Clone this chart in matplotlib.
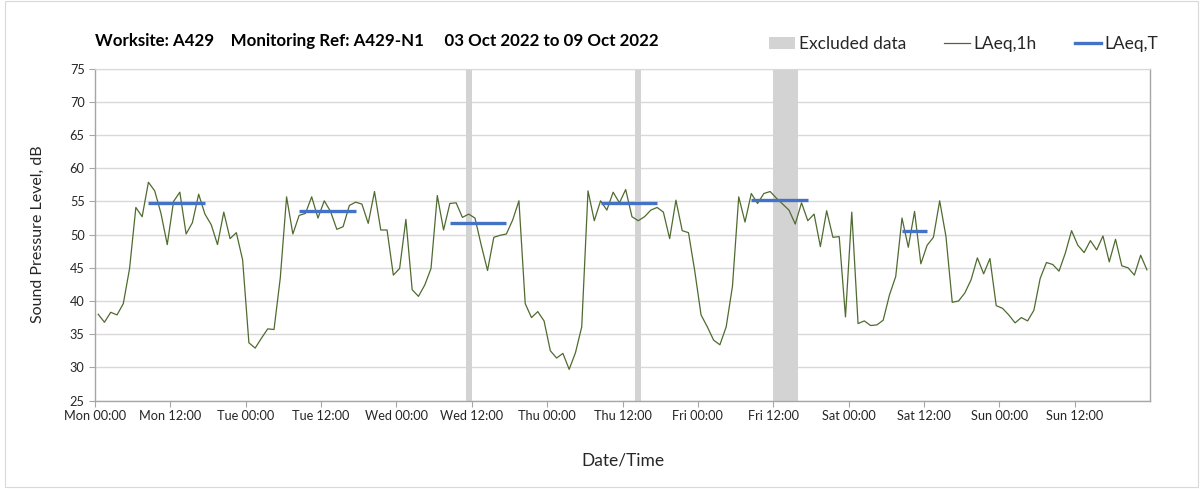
import numpy as np
import matplotlib
matplotlib.use("Agg")
import matplotlib.pyplot as plt
from matplotlib.patches import Patch, Rectangle
from matplotlib.lines import Line2D

plt.rcParams["font.family"] = ["Lato", "DejaVu Sans"]

# hourly LAeq,1h values, Mon 03 Oct 00:00 -> Sun 09 Oct 23:00
mon = [38.0, 36.8, 38.3, 37.9, 39.6, 44.9, 54.1, 52.7, 57.9, 56.6, 53.2, 48.5,
       55.0, 56.4, 50.1, 51.8, 56.1, 53.1, 51.5, 48.5, 53.4, 49.4, 50.3, 46.2]
tue = [33.7, 32.9, 34.4, 35.8, 35.7, 43.5, 55.7, 50.1, 52.9, 53.2, 55.7, 52.5,
       55.1, 53.5, 50.8, 51.2, 54.4, 54.9, 54.6, 51.7, 56.5, 50.7, 50.7, 43.9]
wed = [44.9, 52.3, 41.7, 40.7, 42.4, 44.9, 55.9, 50.7, 54.7, 54.8, 52.6, 53.1,
       52.5, 48.4, 44.6, 49.6, 49.9, 50.1, 52.2, 55.1, 39.6, 37.5, 38.4, 37.0]
thu = [32.5, 31.4, 32.1, 29.7, 32.2, 36.1, 56.6, 52.1, 55.1, 53.7, 56.4, 54.8,
       56.8, 52.7, 52.1, 52.7, 53.7, 54.1, 53.4, 49.4, 55.2, 50.6, 50.3, 44.5]
fri = [37.9, 36.1, 34.1, 33.4, 36.1, 42.2, 55.7, 51.9, 56.2, 54.7, 56.2, 56.5,
       55.5, 54.6, 53.7, 51.6, 54.8, 52.1, 53.1, 48.2, 53.6, 49.6, 49.7, 37.6]
sat = [53.4, 36.6, 37.0, 36.3, 36.4, 37.1, 40.9, 43.7, 52.5, 48.1, 53.5, 45.6,
       48.4, 49.6, 55.1, 49.7, 39.8, 40.0, 41.2, 43.2, 46.5, 44.1, 46.4, 39.3]
sun = [38.9, 37.9, 36.7, 37.5, 37.0, 38.6, 43.4, 45.8, 45.5, 44.5, 47.2, 50.6,
       48.4, 47.3, 49.1, 47.7, 49.8, 45.9, 49.3, 45.3, 45.0, 43.9, 46.9, 44.7]
laeq_1h = mon + tue + wed + thu + fri + sat + sun

# LAeq,T per day (day index, first hour, last hour, value)
laeqt_day = [0, 1, 2, 3, 4, 5]
laeqt_first_hour = [8, 8, 8, 8, 8, 8]
laeqt_last_hour = [17, 17, 17, 17, 17, 12]
laeqt_value = [54.7, 53.6, 51.7, 54.7, 55.2, 50.6]

# excluded periods, hours from Mon 00:00
excl_start = [59, 86, 108]
excl_end = [60, 87, 112]

day_names = ["Mon", "Tue", "Wed", "Thu", "Fri", "Sat", "Sun"]
tick_labels = [d + " " + t for d in day_names for t in ["00:00", "12:00"]]

green = "#4f6b2f"
blue = "#4472c4"
grey_band = "#d3d3d3"
grid_c = "#d9d9d9"
axis_c = "#a6a6a6"
text_c = "#262626"

fig = plt.figure(figsize=(12.03, 4.91), dpi=100)
fig.patches.append(Rectangle((0.004, 0.008), 0.992, 0.99, transform=fig.transFigure,
                             fill=False, edgecolor="#d9d9d9", linewidth=0.8))
ax = fig.add_axes([0.079, 0.1843, 0.877, 0.6756])

hours = np.arange(len(laeq_1h)) + 0.5

for s, e in zip(excl_start, excl_end):
    ax.axvspan(s, e, color=grey_band, linewidth=0, zorder=1)

ax.plot(hours, laeq_1h, color=green, linewidth=0.9, zorder=3)

for d, h0, h1, v in zip(laeqt_day, laeqt_first_hour, laeqt_last_hour, laeqt_value):
    ax.plot([24 * d + h0 + 0.5, 24 * d + h1 + 0.5], [v, v], color=blue,
            linewidth=2.4, solid_capstyle="butt", zorder=4)

ax.set_xlim(0, 168)
ax.set_ylim(25, 75)
ax.set_yticks(np.arange(25, 76, 5))
ax.set_xticks(np.arange(0, 168, 12))
ax.set_xticklabels(tick_labels)
ax.set_xticks(np.arange(24, 168, 24), minor=True)

ax.grid(axis="y", which="major", color=grid_c, linewidth=1, zorder=0)
ax.grid(axis="x", which="minor", color="#e6e6e6", linewidth=1, zorder=0)
ax.set_axisbelow(True)

for side in ["left", "bottom", "right"]:
    ax.spines[side].set_color(axis_c)
    ax.spines[side].set_linewidth(1)
ax.spines["top"].set_color(grid_c)

ax.tick_params(axis="both", which="major", length=4, color=axis_c, labelsize=9.2,
               labelcolor=text_c)
ax.tick_params(axis="x", which="minor", length=0)
ax.tick_params(axis="x", pad=3)

ax.set_ylabel("Sound Pressure Level, dB", fontsize=11.5, color=text_c, labelpad=18)
ax.set_xlabel("Date/Time", fontsize=12.5, color=text_c, labelpad=22)

fig.text(95 / 1203, 1 - 41 / 491,
         "Worksite: A429    Monitoring Ref: A429-N1     03 Oct 2022 to 09 Oct 2022",
         fontsize=12.2, fontweight="bold", color="black", va="center", ha="left")

handles = [Patch(facecolor=grey_band, edgecolor="none"),
           Line2D([], [], color=green, linewidth=0.9),
           Line2D([], [], color=blue, linewidth=2.4)]
fig.legend(handles, ["Excluded data", "LAeq,1h", "LAeq,T"], loc="center right",
           bbox_to_anchor=(1174 / 1203, 1 - 44 / 491), ncol=3, frameon=False,
           fontsize=12.5, handlelength=1.5, handletextpad=0.2, columnspacing=2.2,
           labelcolor=text_c)

fig.savefig("out.png", dpi=100)
